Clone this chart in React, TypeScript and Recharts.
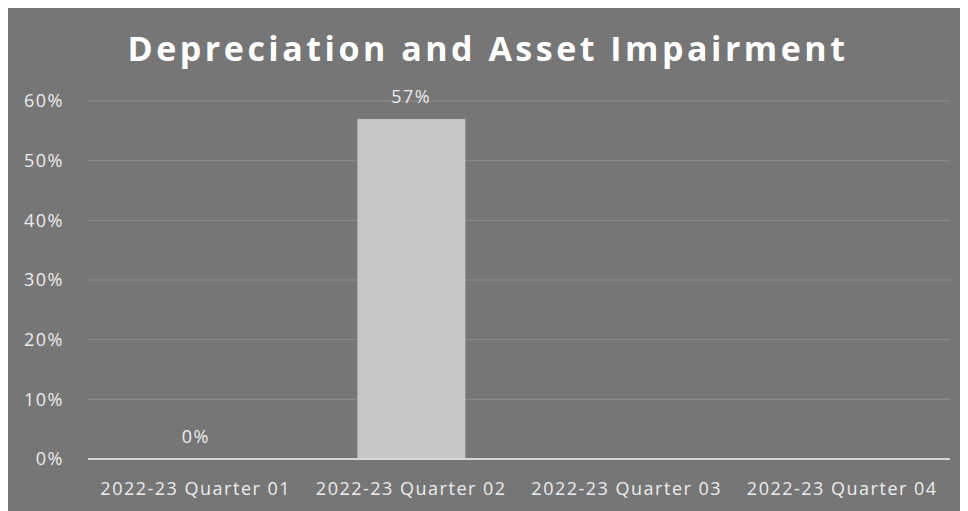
import { ComposedChart, Bar, Line, XAxis, YAxis, CartesianGrid } from "recharts"

const quarters = ["2022-23 Quarter 01", "2022-23 Quarter 02", "2022-23 Quarter 03", "2022-23 Quarter 04"]
const impairment: (number | null)[] = [0, 57, null, null]
const yTicks = [0, 10, 20, 30, 40, 50, 60]

const data = quarters.map((q, i) => ({ quarter: q, value: impairment[i] }))

const font = "'Open Sans', sans-serif"
const tickStyle = { fill: "#ececec", fontSize: 18, fontFamily: font, letterSpacing: 1.5 }

// value label above each bar point (a zero bar has no rect, so labels ride on an invisible line)
const renderLabel = (props: any) => {
  const { x, y, value } = props
  if (value == null || x == null || y == null) return null
  return (
    <text x={x} y={y - 16} textAnchor="middle" style={tickStyle}>
      {`${value}%`}
    </text>
  )
}

export default function App() {
  return (
    <div style={{ position: "relative", width: 960, height: 503, background: "#767676", fontFamily: font }}>
      <div
        style={{
          position: "absolute",
          top: 20,
          left: 0,
          width: 960,
          textAlign: "center",
          color: "#ffffff",
          fontSize: 34,
          fontWeight: 700,
          letterSpacing: 3.5,
          lineHeight: "40px",
        }}
      >
        Depreciation and Asset Impairment
      </div>
      <ComposedChart width={960} height={503} data={data} margin={{ top: 93, right: 18, bottom: 22, left: 0 }} barCategoryGap="25%">
        <CartesianGrid vertical={false} stroke="#8e8e8e" />
        <XAxis
          dataKey="quarter"
          tickLine={false}
          axisLine={{ stroke: "#d6d6d6", strokeWidth: 2 }}
          tick={tickStyle}
          tickMargin={17}
          interval={0}
        />
        <YAxis
          width={80}
          domain={[0, 60]}
          ticks={yTicks}
          tickFormatter={(v) => `${v}%`}
          axisLine={false}
          tickLine={false}
          tickMargin={18}
          tick={tickStyle}
        />
        <Bar dataKey="value" fill="#c6c6c6" isAnimationActive={false} />
        <Line
          dataKey="value"
          stroke="none"
          dot={false}
          activeDot={false}
          legendType="none"
          isAnimationActive={false}
          label={renderLabel}
        />
      </ComposedChart>
    </div>
  )
}
